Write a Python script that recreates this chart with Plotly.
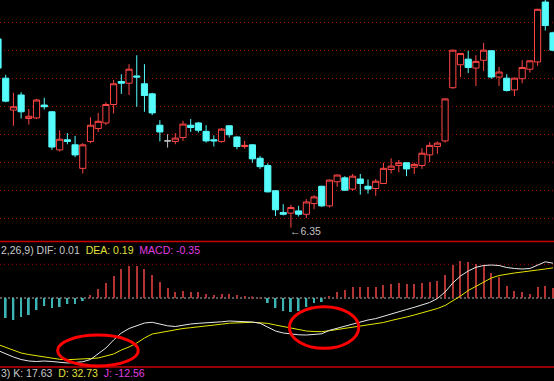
import plotly.graph_objects as go

# ---------------- data ----------------
idx = list(range(73))

open_ = [9.72, 9.02, 8.45, 8.72, 8.30, 8.31, 8.54, 8.42, 7.74, 7.92,
         7.83, 7.41, 7.89, 8.12, 8.22, 8.55, 8.96, 8.93, 9.06, 8.92,
         8.74, 8.18, 7.90, 7.89, 7.96, 8.18, 8.22, 8.07, 7.92, 7.89,
         8.17, 7.97, 7.80, 7.83, 7.59, 7.46, 7.01, 6.62, 6.61, 6.65,
         6.59, 6.78, 7.09, 6.74, 7.17, 7.24, 7.04, 7.22, 7.09, 7.05,
         7.14, 7.39, 7.46, 7.51, 7.43, 7.46, 7.65, 7.80, 7.90, 8.85,
         9.26, 9.36, 9.20, 9.34, 9.51, 9.04, 9.02, 8.81, 9.01, 9.18,
         9.31, 10.38, 9.83]
high = [9.74, 9.08, 8.76, 8.77, 8.47, 8.65, 8.67, 8.43, 8.09, 8.04,
        7.99, 7.86, 8.32, 8.40, 8.59, 8.99, 9.09, 9.27, 9.43, 9.27,
        8.76, 8.27, 8.02, 8.04, 8.26, 8.29, 8.24, 8.18, 8.00, 8.13,
        8.18, 7.98, 7.90, 7.84, 7.63, 7.50, 7.02, 6.77, 6.76, 6.74,
        6.86, 6.93, 7.10, 7.21, 7.30, 7.27, 7.31, 7.31, 7.21, 7.22,
        7.51, 7.59, 7.56, 7.52, 7.51, 7.77, 7.88, 7.89, 8.66, 9.53,
        9.47, 9.51, 9.43, 9.65, 9.52, 9.22, 9.09, 9.03, 9.34, 9.34,
        10.26, 10.42, 9.85]
low = [9.18, 8.59, 8.17, 8.30, 8.19, 8.29, 8.46, 7.74, 7.71, 7.84,
       7.61, 7.32, 7.86, 8.06, 8.18, 8.39, 8.74, 8.72, 8.51, 8.42,
       8.36, 7.89, 7.78, 7.84, 7.90, 8.06, 8.05, 7.87, 7.80, 7.87,
       7.96, 7.75, 7.76, 7.51, 7.40, 6.98, 6.56, 6.57, 6.35, 6.55,
       6.52, 6.68, 6.72, 6.71, 7.08, 7.01, 7.01, 6.94, 6.96, 6.92,
       7.13, 7.32, 7.34, 7.27, 7.31, 7.40, 7.52, 7.67, 7.87, 8.83,
       9.04, 9.11, 8.88, 9.15, 9.01, 8.88, 8.78, 8.70, 8.93, 9.12,
       9.24, 9.87, 9.50]
close = [9.20, 8.61, 8.51, 8.42, 8.34, 8.63, 8.51, 7.79, 7.93, 7.89,
         7.65, 7.83, 8.18, 8.25, 8.55, 8.92, 8.93, 9.18, 9.04, 8.71,
         8.40, 8.06, 7.90, 7.95, 8.20, 8.14, 8.09, 7.90, 7.90, 8.11,
         8.01, 7.80, 7.82, 7.58, 7.44, 6.99, 6.67, 6.59, 6.71, 6.59,
         6.81, 6.90, 6.74, 7.20, 7.29, 7.02, 7.27, 7.14, 7.04, 7.18,
         7.41, 7.45, 7.51, 7.40, 7.48, 7.68, 7.82, 7.86, 8.65, 9.52,
         9.46, 9.21, 9.32, 9.52, 9.04, 9.13, 8.80, 9.02, 9.21, 9.33,
         10.25, 9.96, 9.52]

macd = [-0.19, -0.20, -0.22, -0.19, -0.17, -0.12, -0.08, -0.10, -0.09, -0.06,
        -0.06, -0.03, 0.03, 0.09, 0.15, 0.22, 0.29, 0.32, 0.32, 0.29,
        0.23, 0.16, 0.10, 0.06, 0.07, 0.06, 0.06, 0.04, 0.03, 0.04,
        0.04, 0.03, 0.02, 0.01, 0.003, -0.05, -0.10, -0.13, -0.14, -0.13,
        -0.09, -0.05, -0.04, 0.02, 0.06, 0.08, 0.11, 0.11, 0.11, 0.11,
        0.13, 0.14, 0.15, 0.14, 0.14, 0.15, 0.16, 0.17, 0.23, 0.33,
        0.37, 0.36, 0.34, 0.33, 0.25, 0.21, 0.12, 0.07, 0.06, 0.04,
        0.11, 0.12, 0.10]
dif = [-0.525, -0.56, -0.59, -0.615, -0.63, -0.635, -0.63, -0.635, -0.643, -0.65,
       -0.645, -0.637, -0.615, -0.56, -0.50, -0.42, -0.35, -0.305, -0.275, -0.25,
       -0.243, -0.26, -0.278, -0.285, -0.27, -0.26, -0.253, -0.25, -0.245, -0.238,
       -0.23, -0.232, -0.235, -0.24, -0.253, -0.29, -0.33, -0.35, -0.36, -0.368,
       -0.37, -0.367, -0.358, -0.323, -0.303, -0.284, -0.26, -0.238, -0.22, -0.206,
       -0.185, -0.162, -0.138, -0.115, -0.093, -0.07, -0.045, -0.005, 0.06, 0.15,
       0.22, 0.27, 0.307, 0.325, 0.33, 0.325, 0.305, 0.295, 0.29, 0.295,
       0.33, 0.362, 0.348]
dea = [-0.465, -0.495, -0.525, -0.55, -0.565, -0.577, -0.59, -0.605, -0.613, -0.617,
       -0.615, -0.61, -0.605, -0.60, -0.58, -0.56, -0.52, -0.49, -0.45, -0.40,
       -0.36, -0.345, -0.33, -0.315, -0.305, -0.297, -0.29, -0.28, -0.272, -0.262,
       -0.252, -0.247, -0.245, -0.243, -0.248, -0.254, -0.27, -0.285, -0.30, -0.32,
       -0.33, -0.335, -0.337, -0.327, -0.315, -0.305, -0.295, -0.285, -0.272, -0.26,
       -0.245, -0.225, -0.21, -0.19, -0.17, -0.15, -0.13, -0.105, -0.075, -0.03,
       0.02, 0.075, 0.117, 0.16, 0.20, 0.225, 0.24, 0.25, 0.26, 0.267,
       0.28, 0.29, 0.302]

low_label = "←6.35"
macd_text = ('<span style="color:#c8c8c8">2,26,9) DIF: 0.01</span>  '
             '<span style="color:#e0e03c">DEA: 0.19</span>  '
             '<span style="color:#e03ce0">MACD: -0.35</span>')
kdj_text = ('<span style="color:#c8c8c8">3) K: 17.63</span>  '
            '<span style="color:#e0e03c">D: 32.73</span>  '
            '<span style="color:#e03ce0">J: -12.56</span>')

# ---------------- layout constants ----------------
W, H = 554, 381
P_TOP = 10.416          # price at top edge
PX_PER_PRICE = 56.0
MAIN_BOTTOM_PX = 241.5
split = 1 - MAIN_BOTTOM_PX / H
x_range = [0.26, 72.13]

fig = go.Figure()

normal = [i for i in idx if open_[i] != close[i]]
doji = [i for i in idx if open_[i] == close[i]]

fig.add_trace(go.Candlestick(
    x=[idx[i] for i in normal],
    open=[open_[i] for i in normal], high=[high[i] for i in normal],
    low=[low[i] for i in normal], close=[close[i] for i in normal],
    increasing=dict(line=dict(color="#ff4646", width=1), fillcolor="#000000"),
    decreasing=dict(line=dict(color="#54fcfc", width=1), fillcolor="#54fcfc"),
    whiskerwidth=0, xaxis="x", yaxis="y", showlegend=False, hoverinfo="skip"))

fig.add_trace(go.Candlestick(
    x=[idx[i] for i in doji],
    open=[open_[i] for i in doji], high=[high[i] for i in doji],
    low=[low[i] for i in doji], close=[close[i] for i in doji],
    increasing=dict(line=dict(color="#c0c0c0", width=1), fillcolor="#c0c0c0"),
    decreasing=dict(line=dict(color="#c0c0c0", width=1), fillcolor="#c0c0c0"),
    whiskerwidth=0, xaxis="x", yaxis="y", showlegend=False, hoverinfo="skip"))

fig.add_trace(go.Bar(
    x=idx, y=macd,
    marker=dict(color=["#b43434" if v >= 0 else "#3cb4b4" for v in macd],
                line=dict(width=0)),
    width=[0.14 if v >= 0 else 0.24 for v in macd],
    xaxis="x2", yaxis="y2", showlegend=False, hoverinfo="skip"))

fig.add_trace(go.Scatter(x=idx, y=dea, mode="lines",
                         line=dict(color="#e6e600", width=1),
                         xaxis="x2", yaxis="y2", showlegend=False, hoverinfo="skip"))
fig.add_trace(go.Scatter(x=idx, y=dif, mode="lines",
                         line=dict(color="#e8e8e8", width=1),
                         xaxis="x2", yaxis="y2", showlegend=False, hoverinfo="skip"))

low_i = low.index(min(low))
axis_off = dict(showticklabels=False, showgrid=False, zeroline=False, ticks="",
                showline=False)

fig.update_layout(
    width=W, height=H,
    margin=dict(l=0, r=0, t=0, b=0),
    paper_bgcolor="#000000", plot_bgcolor="#000000",
    boxgap=0.2, boxgroupgap=0,
    showlegend=False,
    xaxis=dict(range=x_range, domain=[0, 1], anchor="y",
               rangeslider=dict(visible=False), **axis_off),
    yaxis=dict(range=[P_TOP - MAIN_BOTTOM_PX / PX_PER_PRICE, P_TOP],
               domain=[split, 1], anchor="x",
               showticklabels=False, zeroline=False, ticks="", showline=False,
               showgrid=True, gridcolor="#b40000", gridwidth=1,
               griddash="1px,3px", tick0=0.018, dtick=0.5),
    xaxis2=dict(range=x_range, domain=[0, 1], anchor="y2",
                rangeslider=dict(visible=False), **axis_off),
    yaxis2=dict(range=[-0.83, 0.565], domain=[0, split], anchor="x2", **axis_off),
    font=dict(family="Liberation Sans", size=10.5, color="#c8c8c8"),
    shapes=[
        dict(type="line", xref="paper", yref="paper", x0=0, x1=1,
             y0=split, y1=split, line=dict(color="#c80000", width=1.5)),
        dict(type="line", xref="paper", yref="paper", x0=0, x1=1,
             y0=1 - 367 / H, y1=1 - 367 / H, line=dict(color="#c80000", width=1.5)),
        dict(type="line", xref="paper", yref="y2", x0=0, x1=1,
             y0=0.337, y1=0.337, line=dict(color="#b40000", width=1, dash="1px,3px"),
             layer="below"),
        dict(type="line", xref="paper", yref="y2", x0=0, x1=1,
             y0=0, y1=0, line=dict(color="#b4b4b4", width=1, dash="2px,2px"),
             layer="below"),
        dict(type="circle", xref="x2", yref="y2", x0=7.74, x1=18.2,
             y0=-0.68, y1=-0.37, line=dict(color="#ff0000", width=3)),
        dict(type="circle", xref="x2", yref="y2", x0=37.8, x1=46.8,
             y0=-0.503, y1=-0.087, line=dict(color="#ff0000", width=3)),
    ],
    annotations=[
        dict(text=macd_text, xref="paper", yref="paper", x=0, y=1 - 250 / H,
             xanchor="left", yanchor="middle", showarrow=False, xshift=-1,
             font=dict(size=10.5)),
        dict(text=kdj_text, xref="paper", yref="paper", x=0, y=1 - 373 / H,
             xanchor="left", yanchor="middle", showarrow=False, xshift=-1,
             font=dict(size=10.5)),
        dict(text=low_label, xref="x", yref="y", x=idx[low_i], y=low[low_i],
             xanchor="left", yanchor="middle", showarrow=False, xshift=-3,
             yshift=-3, font=dict(size=10.5, color="#c0c0c0")),
    ],
)

fig.write_html("out.html")
